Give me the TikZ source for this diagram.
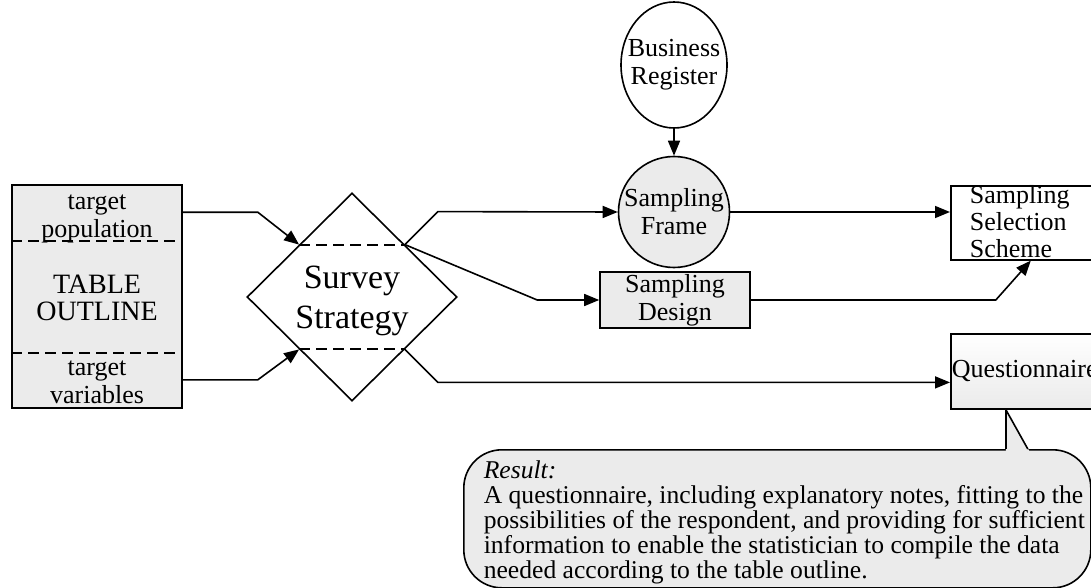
\documentclass[tikz,border=0pt]{standalone}
\usepackage{fontspec}
\setmainfont{Liberation Serif}
\usetikzlibrary{calc,positioning,arrows.meta,shapes.geometric}
\definecolor{stipple}{gray}{0.92}

\begin{document}
\begin{tikzpicture}[x=1pt,y=-1pt,line width=1.6pt,
        every node/.style={inner sep=0pt, font=\fontsize{26}{28}\selectfont, align=center},
        flow/.style={-{Triangle[length=15pt,width=12pt]}},
        divider/.style={line width=2pt, dash pattern=on 11pt off 6pt}]
        \path[use as bounding box, clip] (0,0) rectangle (1091,588);

        \node[draw, fill=stipple, minimum width=170pt, minimum height=223pt] (tbl) at (97,296.5) {};
        \draw[divider] ([yshift=-57pt]tbl.north west) -- ([yshift=-57pt]tbl.north east);
        \draw[divider] ([yshift=56pt]tbl.south west) -- ([yshift=56pt]tbl.south east);
        \node (tpop) at (97,219) {target\\population};
        \node[font=\fontsize{28}{27}\selectfont] (tout) at (97,298) {TABLE\\OUTLINE};
        \node (tvar) at (97,382) {target\\variables};

        \node[draw, diamond, aspect=1, minimum width=210pt, minimum height=208pt] (ss) at (352,297) {};
        \node[font=\fontsize{34}{40}\selectfont] (sstxt) at (352,301) {Survey\\Strategy};
        \coordinate (ssnw) at ($(ss.north)!0.5!(ss.west)$);
        \coordinate (ssne) at ($(ss.north)!0.5!(ss.east)$);
        \coordinate (sssw) at ($(ss.south)!0.5!(ss.west)$);
        \coordinate (ssse) at ($(ss.south)!0.5!(ss.east)$);
        \draw[divider] (ssnw) -- (ssne);
        \draw[divider] (sssw) -- (ssse);

        \node[draw, ellipse, minimum width=106pt, minimum height=126pt] (br) at (674,65) {};
        \node at (br) {Business\\Register};
        \node[draw, circle, fill=stipple, minimum size=111pt] (sf) at (674,212) {};
        \node at (sf) {Sampling\\Frame};

        \node[draw, fill=stipple, minimum width=150pt, minimum height=56pt] (sd) at (675,300) {};
        \node at (sd) {Sampling\\Design};

        \node[draw, fill=white, minimum width=160pt, minimum height=74pt, anchor=north west] (sss) at (950,185) {};
        \node[anchor=west, align=left, font=\fontsize{26}{27}\selectfont] at (969,222) {Sampling\\Selection\\Scheme};

        \node[draw, top color=white, bottom color=stipple, minimum width=160pt, minimum height=75pt,
            anchor=north west] (q) at (950,333) {};
        \node[anchor=base west] at (951,377) {Questionnaire};

        % connectors
        \draw[flow] ([yshift=-28pt]tbl.north east) -- ++(75,0) -- (ssnw);
        \draw[flow] ([yshift=29pt]tbl.south east) -- ++(75,0) -- (sssw);
        \draw[flow] (ssne) -- ++(33,-33) -- (sf.west);
        \draw[flow] (ssne) -- ([xshift=-62pt]sd.west) -- (sd.west);
        \draw[flow] (ssse) -- ++(33,33) coordinate (qbend) -- (qbend -| q.west);
        \draw[flow] (br) -- (sf);
        \draw[flow] (sf.east) -- (sf.east -| sss.west);
        \draw[flow] (sd.east) -- ++(245,0) -- (sss.south);

        % result callout
        \node[draw, fill=stipple, rounded corners=38pt, minimum width=627pt, minimum height=138pt,
            anchor=north west] (res) at (463,449) {};
        \coordinate (tip) at ([xshift=-25pt]q.south);
        \fill[stipple] (tip) -- ($(tip |- res.north)+(0,3)$) -- ++(24,0) -- cycle;
        \draw (tip) -- (tip |- res.north);
        \draw (tip) -- ($(tip |- res.north)+(22,0)$);
        \node[anchor=west, align=left, font=\fontsize{25.6}{25}\selectfont] (restxt) at (483,522)
            {\textit{Result:}\\A questionnaire, including explanatory notes, fitting to the\\
            possibilities of the respondent, and providing for sufficient\\
            information to enable the statistician to compile the data\\
            needed according to the table outline.};
    \end{tikzpicture}
\end{document}
